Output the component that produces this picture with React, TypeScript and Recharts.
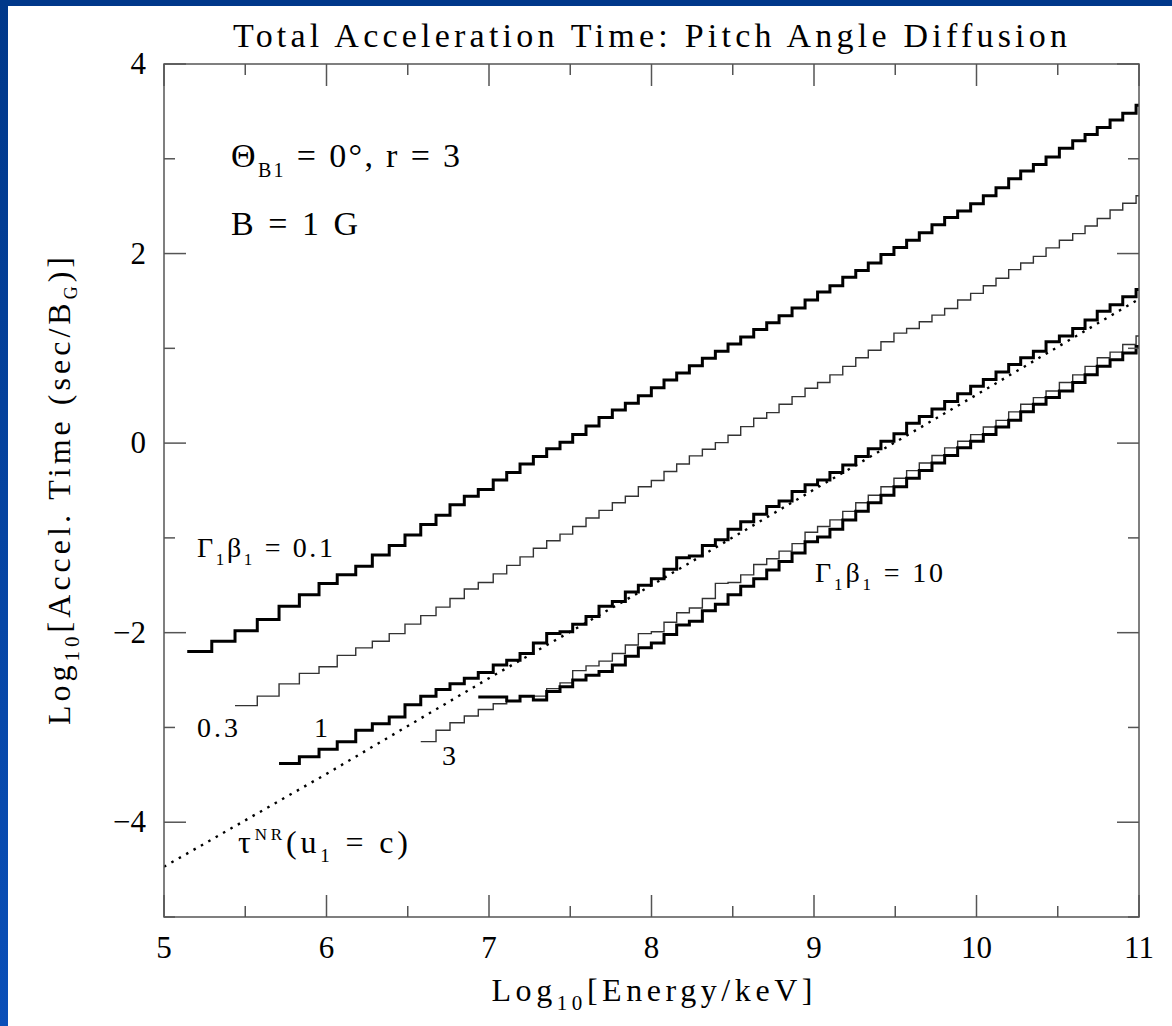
import { LineChart, Line, XAxis, YAxis } from 'recharts';

// log10(E/keV) at the left edge of each momentum bin
const energyEdges = [
  5.143, 5.294, 5.437, 5.574, 5.708, 5.833, 5.954, 6.066, 6.18, 6.282,
  6.386, 6.483, 6.58, 6.674, 6.76, 6.848, 6.934, 7.026, 7.109, 7.191,
  7.273, 7.355, 7.437, 7.515, 7.597, 7.677, 7.759, 7.839, 7.919, 7.999,
  8.077, 8.155, 8.233, 8.313, 8.393, 8.471, 8.549, 8.629, 8.709, 8.785,
  8.865, 8.945, 9.022, 9.098, 9.177, 9.257, 9.334, 9.412, 9.492, 9.57,
  9.648, 9.726, 9.804, 9.884, 9.964, 10.042, 10.12, 10.198, 10.272, 10.35,
  10.428, 10.51, 10.592, 10.668, 10.743, 10.822, 10.9, 10.982,
];
const ENERGY_MAX = 11;

// log10 acceleration time per bin; each list ends on the last bin
const tauGB01 = [
  -2.2, -2.09, -1.98, -1.86, -1.72, -1.6, -1.48, -1.39, -1.3, -1.18,
  -1.08, -0.97, -0.86, -0.76, -0.65, -0.56, -0.49, -0.39, -0.31, -0.22,
  -0.14, -0.06, 0.01, 0.09, 0.18, 0.27, 0.35, 0.42, 0.5, 0.585,
  0.665, 0.74, 0.815, 0.895, 0.97, 1.045, 1.12, 1.2, 1.27, 1.345,
  1.425, 1.51, 1.595, 1.66, 1.75, 1.82, 1.9, 1.99, 2.065, 2.14,
  2.22, 2.305, 2.38, 2.45, 2.525, 2.61, 2.695, 2.79, 2.87, 2.94,
  3.02, 3.11, 3.19, 3.255, 3.33, 3.41, 3.48, 3.565,
];
const tauGB03 = [
  -2.77, -2.67, -2.54, -2.43, -2.36, -2.24, -2.16, -2.09, -2.01, -1.91,
  -1.82, -1.73, -1.64, -1.54, -1.47, -1.38, -1.29, -1.2, -1.11, -1.03,
  -0.96, -0.88, -0.79, -0.71, -0.63, -0.56, -0.46, -0.395, -0.3, -0.22,
  -0.135, -0.065, 0.005, 0.083, 0.174, 0.263, 0.322, 0.41, 0.49, 0.579,
  0.64, 0.72, 0.81, 0.9, 0.98, 1.07, 1.16, 1.21, 1.28, 1.35,
  1.42, 1.51, 1.58, 1.66, 1.74, 1.83, 1.9, 1.97, 2.06, 2.14,
  2.21, 2.29, 2.37, 2.46, 2.53, 2.61,
];
const tauGB1 = [
  -3.38, -3.31, -3.23, -3.15, -3.03, -2.96, -2.89, -2.76, -2.67, -2.6,
  -2.54, -2.48, -2.42, -2.34, -2.29, -2.22, -2.11, -2.01, -1.99, -1.91,
  -1.83, -1.72, -1.67, -1.57, -1.5, -1.43, -1.33, -1.21, -1.19, -1.08,
  -1.02, -0.91, -0.83, -0.75, -0.67, -0.61, -0.51, -0.44, -0.39, -0.31,
  -0.23, -0.14, -0.06, 0.02, 0.1, 0.21, 0.28, 0.36, 0.44, 0.52,
  0.6, 0.67, 0.75, 0.83, 0.9, 0.97, 1.07, 1.13, 1.21, 1.3,
  1.39, 1.46, 1.545, 1.62,
];
const tauGB3 = [
  -3.15, -3.03, -2.95, -2.88, -2.81, -2.75, -2.72, -2.67, -2.67, -2.59,
  -2.53, -2.4, -2.35, -2.3, -2.22, -2.13, -2.01, -1.99, -1.89, -1.79,
  -1.74, -1.64, -1.48, -1.47, -1.39, -1.28, -1.22, -1.14, -1.06, -0.94,
  -0.88, -0.81, -0.72, -0.63, -0.55, -0.46, -0.37, -0.29, -0.21, -0.13,
  -0.05, 0.02, 0.09, 0.17, 0.24, 0.33, 0.41, 0.48, 0.55, 0.64,
  0.72, 0.81, 0.9, 0.96, 1.04, 1.13,
];
const tauGB10 = [
  -2.68, -2.68, -2.72, -2.67, -2.71, -2.62, -2.57, -2.5, -2.45, -2.41,
  -2.34, -2.25, -2.16, -2.11, -2.02, -1.92, -1.88, -1.77, -1.7, -1.6,
  -1.51, -1.43, -1.34, -1.25, -1.16, -1.04, -0.99, -0.91, -0.81, -0.72,
  -0.63, -0.55, -0.46, -0.37, -0.29, -0.21, -0.13, -0.05, 0.02, 0.09,
  0.17, 0.24, 0.33, 0.41, 0.48, 0.55, 0.64, 0.72, 0.81, 0.88,
  0.95, 1.02,
];

// non-relativistic estimate for u1 = c
const nrEnergy = [5, 6, 7, 8, 9, 10, 11];
const nrTau = [-4.47, -3.49, -2.48, -1.5, -0.49, 0.51, 1.52];

const xTicks = [5, 5.5, 6, 6.5, 7, 7.5, 8, 8.5, 9, 9.5, 10, 10.5, 11];
const yTicks = [-5, -4, -3, -2, -1, 0, 1, 2, 3, 4];

const W = 1172;
const H = 1026;
const PLOT = { left: 164, right: 1139, top: 64, bottom: 917 };
const FONT = "'Liberation Serif', 'DejaVu Serif', serif";
const FRAME = '#555';

const toSteps = (levels: number[]) => {
  const first = energyEdges.length - levels.length;
  const pts = levels.map((y, i) => ({ x: energyEdges[first + i], y }));
  pts.push({ x: ENERGY_MAX, y: levels[levels.length - 1] });
  return pts;
};

const series = [
  { id: 'gb01', levels: tauGB01, thick: true },
  { id: 'gb03', levels: tauGB03, thick: false },
  { id: 'gb1', levels: tauGB1, thick: true },
  { id: 'gb3', levels: tauGB3, thick: false },
  { id: 'gb10', levels: tauGB10, thick: true },
];

const nrData = nrEnergy.map((x, i) => ({ x, y: nrTau[i] }));

const fmt = (v: number) => (v < 0 ? `\u2212${-v}` : `${v}`);

const XTick = (props: any) => {
  const { payload } = props;
  const x = payload?.coordinate ?? props.x;
  const v = payload.value as number;
  const major = Number.isInteger(v);
  const len = major ? 22 : 11;
  return (
    <g>
      <line x1={x} x2={x} y1={PLOT.bottom} y2={PLOT.bottom - len} stroke={FRAME} strokeWidth={1.5} />
      <line x1={x} x2={x} y1={PLOT.top} y2={PLOT.top + len} stroke={FRAME} strokeWidth={1.5} />
      {major && (
        <text x={x} y={958} textAnchor="middle" fontFamily={FONT} fontSize={31} fill="#000">
          {fmt(v)}
        </text>
      )}
    </g>
  );
};

const YTick = (props: any) => {
  const { payload } = props;
  const y = payload?.coordinate ?? props.y;
  const v = payload.value as number;
  const major = v % 2 === 0;
  const len = major ? 22 : 11;
  return (
    <g>
      <line x1={PLOT.left} x2={PLOT.left + len} y1={y} y2={y} stroke={FRAME} strokeWidth={1.5} />
      <line x1={PLOT.right} x2={PLOT.right - len} y1={y} y2={y} stroke={FRAME} strokeWidth={1.5} />
      {major && (
        <text x={146} y={y + 10} textAnchor="end" fontFamily={FONT} fontSize={31} fill="#000">
          {fmt(v)}
        </text>
      )}
    </g>
  );
};

export default function App() {
  return (
    <div style={{ position: 'relative', width: W, height: H, background: '#fff', overflow: 'hidden' }}>
      <style>{'body{margin:0}'}</style>
      <LineChart width={W} height={H} margin={{ top: 64, right: 33, bottom: 49, left: 64 }}>
        <XAxis
          type="number"
          dataKey="x"
          domain={[5, 11]}
          ticks={xTicks}
          interval={0}
          tick={XTick}
          tickLine={false}
          axisLine={false}
          height={60}
          allowDataOverflow
        />
        <YAxis
          type="number"
          domain={[-5, 4]}
          ticks={yTicks}
          interval={0}
          tick={YTick}
          tickLine={false}
          axisLine={false}
          width={100}
          allowDataOverflow
        />
        <Line
          data={nrData}
          dataKey="y"
          type="linear"
          stroke="#000"
          strokeWidth={2.4}
          strokeDasharray="2.5 6"
          dot={false}
          activeDot={false}
          isAnimationActive={false}
        />
        {series.map((s) => (
          <Line
            key={s.id}
            data={toSteps(s.levels)}
            dataKey="y"
            type="stepAfter"
            stroke={s.thick ? '#000' : '#333'}
            strokeWidth={s.thick ? 3 : 1.4}
            dot={false}
            activeDot={false}
            isAnimationActive={false}
          />
        ))}
      </LineChart>

      <svg
        width={W}
        height={H}
        style={{ position: 'absolute', left: 0, top: 0, pointerEvents: 'none' }}
        fontFamily={FONT}
        fill="#000"
      >
        <rect
          x={PLOT.left}
          y={PLOT.top}
          width={PLOT.right - PLOT.left}
          height={PLOT.bottom - PLOT.top}
          fill="none"
          stroke={FRAME}
          strokeWidth={1.5}
        />
        <text x={233} y={47} fontSize={34} textLength={834} lengthAdjust="spacing">
          Total Acceleration Time: Pitch Angle Diffusion
        </text>

        <text x={652} y={1001} textAnchor="middle" fontSize={32} textLength={321} lengthAdjust="spacing">
          Log<tspan fontSize={21} dy={9}>10</tspan>
          <tspan dy={-9}>[Energy/keV]</tspan>
        </text>
        <text
          x={70}
          y={491}
          transform="rotate(-90 70 491)"
          textAnchor="middle"
          fontSize={32}
          textLength={468}
          lengthAdjust="spacing"
        >
          Log<tspan fontSize={21} dy={9}>10</tspan>
          <tspan dy={-9}>[Accel. Time (sec/B</tspan>
          <tspan fontSize={18} dy={7}>G</tspan>
          <tspan dy={-7}>)]</tspan>
        </text>

        <text x={231} y={167} fontSize={34} textLength={229} lengthAdjust="spacing">
          Θ<tspan fontSize={20} dy={10}>B1</tspan>
          <tspan dy={-10}> = 0°, r = 3</tspan>
        </text>
        <text x={231} y={235} fontSize={34} textLength={127} lengthAdjust="spacing">
          B = 1 G
        </text>

        <text x={197} y={557} fontSize={28} textLength={136} lengthAdjust="spacing">
          Γ<tspan fontSize={17} dy={8}>1</tspan>
          <tspan dy={-8}>β</tspan>
          <tspan fontSize={17} dy={8}>1</tspan>
          <tspan dy={-8}> = 0.1</tspan>
        </text>
        <text x={197} y={737} fontSize={28} textLength={41} lengthAdjust="spacing">
          0.3
        </text>
        <text x={314} y={737} fontSize={28}>
          1
        </text>
        <text x={442} y={765} fontSize={28}>
          3
        </text>
        <text x={815} y={582} fontSize={28} textLength={128} lengthAdjust="spacing">
          Γ<tspan fontSize={17} dy={8}>1</tspan>
          <tspan dy={-8}>β</tspan>
          <tspan fontSize={17} dy={8}>1</tspan>
          <tspan dy={-8}> = 10</tspan>
        </text>
        <text x={238} y={853} fontSize={32} textLength={170} lengthAdjust="spacing">
          τ<tspan fontSize={17} dy={-13}>NR</tspan>
          <tspan dy={13}>(u</tspan>
          <tspan fontSize={19} dy={9}>1</tspan>
          <tspan dy={-9}> = c)</tspan>
        </text>
      </svg>

      {/* slide border */}
      <div style={{ position: 'absolute', left: 0, top: 0, width: W, height: 6, background: '#00388a' }} />
      <div
        style={{
          position: 'absolute',
          left: 0,
          top: 0,
          width: 8,
          height: H,
          background: 'linear-gradient(#00388a, #0a4fb8)',
        }}
      />
    </div>
  );
}
